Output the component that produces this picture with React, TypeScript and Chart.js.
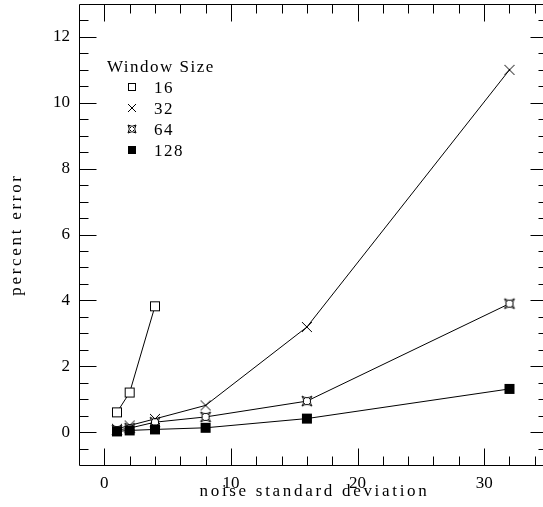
import { useEffect, useRef } from 'react';
import { Chart, registerables } from 'chart.js';

Chart.register(...registerables);

// ---- data ----
const NOISE_16 = [1, 2, 4];
const ERR_16 = [0.6, 1.2, 3.82];
const NOISE = [1, 2, 4, 8, 16, 32];
const ERR_32 = [0.1, 0.2, 0.4, 0.81, 3.19, 11.0];
const ERR_64 = [0.06, 0.12, 0.3, 0.46, 0.94, 3.9];
const ERR_128 = [0.02, 0.05, 0.08, 0.13, 0.41, 1.31];

const LEGEND_TITLE = 'Window Size';
const SERIES_LABELS = ['16', '32', '64', '128'];
const SERIES_MARKERS = ['square', 'cross', 'star', 'filled'];

const X_TITLE = 'noise standard deviation';
const Y_TITLE = 'percent error';

const X_MIN = -2;
const X_MAX = 34.65;
const X_FRAME_MAX = 35;
const Y_MIN = -1;
const Y_MAX = 13;
const X_MAJOR = [0, 10, 20, 30];
const X_MINOR_STEP = 2;
const Y_MAJOR = [0, 2, 4, 6, 8, 10, 12];
const Y_MINOR_STEP = 0.5;

const FONT = '"Liberation Serif", serif';

function makeMarker(kind: string, size: number): HTMLCanvasElement {
  const pad = 2;
  const d = size + pad * 2;
  const c = document.createElement('canvas');
  c.width = d;
  c.height = d;
  const g = c.getContext('2d')!;
  g.strokeStyle = '#000';
  g.fillStyle = '#000';
  g.lineWidth = 1;
  const h = size / 2;
  const cx = d / 2;
  const cy = d / 2;
  if (kind === 'square') {
    g.fillStyle = '#fff';
    g.fillRect(cx - h, cy - h, size, size);
    g.strokeRect(cx - h + 0.5, cy - h + 0.5, size - 1, size - 1);
  } else if (kind === 'cross') {
    g.beginPath();
    g.moveTo(cx - h, cy - h);
    g.lineTo(cx + h, cy + h);
    g.moveTo(cx + h, cy - h);
    g.lineTo(cx - h, cy + h);
    g.stroke();
  } else if (kind === 'star') {
    const k = 0.35;
    g.beginPath();
    g.moveTo(cx - h, cy - h);
    g.quadraticCurveTo(cx, cy - h * k, cx + h, cy - h);
    g.quadraticCurveTo(cx + h * k, cy, cx + h, cy + h);
    g.quadraticCurveTo(cx, cy + h * k, cx - h, cy + h);
    g.quadraticCurveTo(cx - h * k, cy, cx - h, cy - h);
    g.closePath();
    g.fillStyle = '#fff';
    g.fill();
    g.stroke();
    g.beginPath();
    g.moveTo(cx - h + 1.5, cy - h + 1.5);
    g.lineTo(cx - h + 3, cy - h + 3);
    g.moveTo(cx + h - 1.5, cy - h + 1.5);
    g.lineTo(cx + h - 3, cy - h + 3);
    g.moveTo(cx - h + 1.5, cy + h - 1.5);
    g.lineTo(cx - h + 3, cy + h - 3);
    g.moveTo(cx + h - 1.5, cy + h - 1.5);
    g.lineTo(cx + h - 3, cy + h - 3);
    g.stroke();
  } else {
    g.fillRect(cx - h, cy - h, size, size);
  }
  return c;
}

export default function App() {
  const ref = useRef<HTMLCanvasElement | null>(null);

  useEffect(() => {
    document.body.style.margin = '0';
    const canvas = ref.current;
    if (!canvas) return;

    const plotMarkers = SERIES_MARKERS.map((m) => makeMarker(m, 10));
    const legendMarkers = SERIES_MARKERS.map((m) => makeMarker(m, 8));

    const framePlugin = {
      id: 'framePlugin',
      afterDraw(chart: any) {
        const { ctx, chartArea } = chart;
        const x = chart.scales.x;
        const y = chart.scales.y;
        const L = Math.round(x.getPixelForValue(X_MIN)) + 0.5;
        const R = Math.round(x.getPixelForValue(X_FRAME_MAX)) + 0.5;
        const T = Math.round(y.getPixelForValue(Y_MAX)) + 0.5;
        const B = Math.round(y.getPixelForValue(Y_MIN)) + 0.5;
        ctx.save();
        ctx.strokeStyle = '#000';
        ctx.lineWidth = 1;
        ctx.beginPath();
        ctx.rect(L, T, R - L, B - T);
        const major = 17;
        const minor = 9;
        for (let v = 0; v < X_FRAME_MAX; v += X_MINOR_STEP) {
          const len = X_MAJOR.includes(v) ? major : minor;
          const px = Math.round(x.getPixelForValue(v)) + 0.5;
          ctx.moveTo(px, B);
          ctx.lineTo(px, B - len);
          ctx.moveTo(px, T);
          ctx.lineTo(px, T + len);
        }
        for (let v = Y_MIN + Y_MINOR_STEP; v < Y_MAX - 1e-9; v += Y_MINOR_STEP) {
          const vv = Math.round(v * 100) / 100;
          const len = Y_MAJOR.includes(vv) ? major : minor;
          const py = Math.round(y.getPixelForValue(vv)) + 0.5;
          ctx.moveTo(L, py);
          ctx.lineTo(L + len, py);
          ctx.moveTo(R, py);
          ctx.lineTo(R - len, py);
        }
        ctx.stroke();

        // axis titles
        ctx.fillStyle = '#000';
        ctx.font = '17px ' + FONT;
        (ctx as any).letterSpacing = '2.7px';
        ctx.textAlign = 'center';
        ctx.textBaseline = 'alphabetic';
        ctx.fillText(X_TITLE, (L + R) / 2 + 1, 496);
        ctx.save();
        ctx.translate(21, (chartArea.top + chartArea.bottom) / 2);
        ctx.rotate(-Math.PI / 2);
        ctx.fillText(Y_TITLE, 0, 0);
        ctx.restore();

        // legend
        (ctx as any).letterSpacing = '1.5px';
        ctx.textAlign = 'left';
        ctx.fillText(LEGEND_TITLE, 107, 72);
        SERIES_LABELS.forEach((lab, i) => {
          const cy = 87.3 + i * 21;
          const img = legendMarkers[i];
          ctx.drawImage(img, Math.round(132 - img.width / 2), Math.round(cy - img.height / 2));
          ctx.fillText(lab, 154, cy + 6);
        });
        ctx.restore();
      },
    };

    const toPts = (xs: number[], ys: number[]) => xs.map((v, i) => ({ x: v, y: ys[i] }));
    const seriesData = [toPts(NOISE_16, ERR_16), toPts(NOISE, ERR_32), toPts(NOISE, ERR_64), toPts(NOISE, ERR_128)];

    const chart = new Chart(canvas, {
      type: 'scatter',
      data: {
        datasets: seriesData.map((d, i) => ({
          label: SERIES_LABELS[i],
          data: d,
          showLine: true,
          borderColor: '#000',
          borderWidth: 1,
          backgroundColor: '#000',
          pointStyle: plotMarkers[i] as any,
          pointRadius: 5,
          order: 3 - i,
        })),
      },
      options: {
        responsive: false,
        animation: false,
        events: [],
        layout: { autoPadding: false, padding: { top: 4, right: 0, left: 0, bottom: 0 } },
        plugins: { legend: { display: false }, tooltip: { enabled: false } },
        scales: {
          x: {
            type: 'linear',
            min: X_MIN,
            max: X_MAX,
            grid: { display: false, drawTicks: false },
            border: { display: false },
            afterBuildTicks: (s: any) => {
              s.ticks = X_MAJOR.map((v) => ({ value: v }));
            },
            afterFit: (s: any) => {
              s.height = 42;
              s.paddingLeft = 0;
              s.paddingRight = 0;
            },
            ticks: {
              color: '#000',
              font: { family: FONT, size: 17 },
              padding: 8,
              maxRotation: 0,
              autoSkip: false,
            },
          },
          y: {
            type: 'linear',
            min: Y_MIN,
            max: Y_MAX,
            grid: { display: false, drawTicks: false },
            border: { display: false },
            afterBuildTicks: (s: any) => {
              s.ticks = Y_MAJOR.map((v) => ({ value: v }));
            },
            afterFit: (s: any) => {
              s.width = 79;
              s.paddingTop = 0;
              s.paddingBottom = 0;
            },
            ticks: {
              color: '#000',
              font: { family: FONT, size: 17 },
              padding: 9,
              autoSkip: false,
            },
          },
        },
      },
      plugins: [framePlugin],
    });

    return () => chart.destroy();
  }, []);

  return (
    <div style={{ width: 543, height: 507 }}>
      <canvas ref={ref} width={543} height={507} style={{ display: 'block' }} />
    </div>
  );
}
